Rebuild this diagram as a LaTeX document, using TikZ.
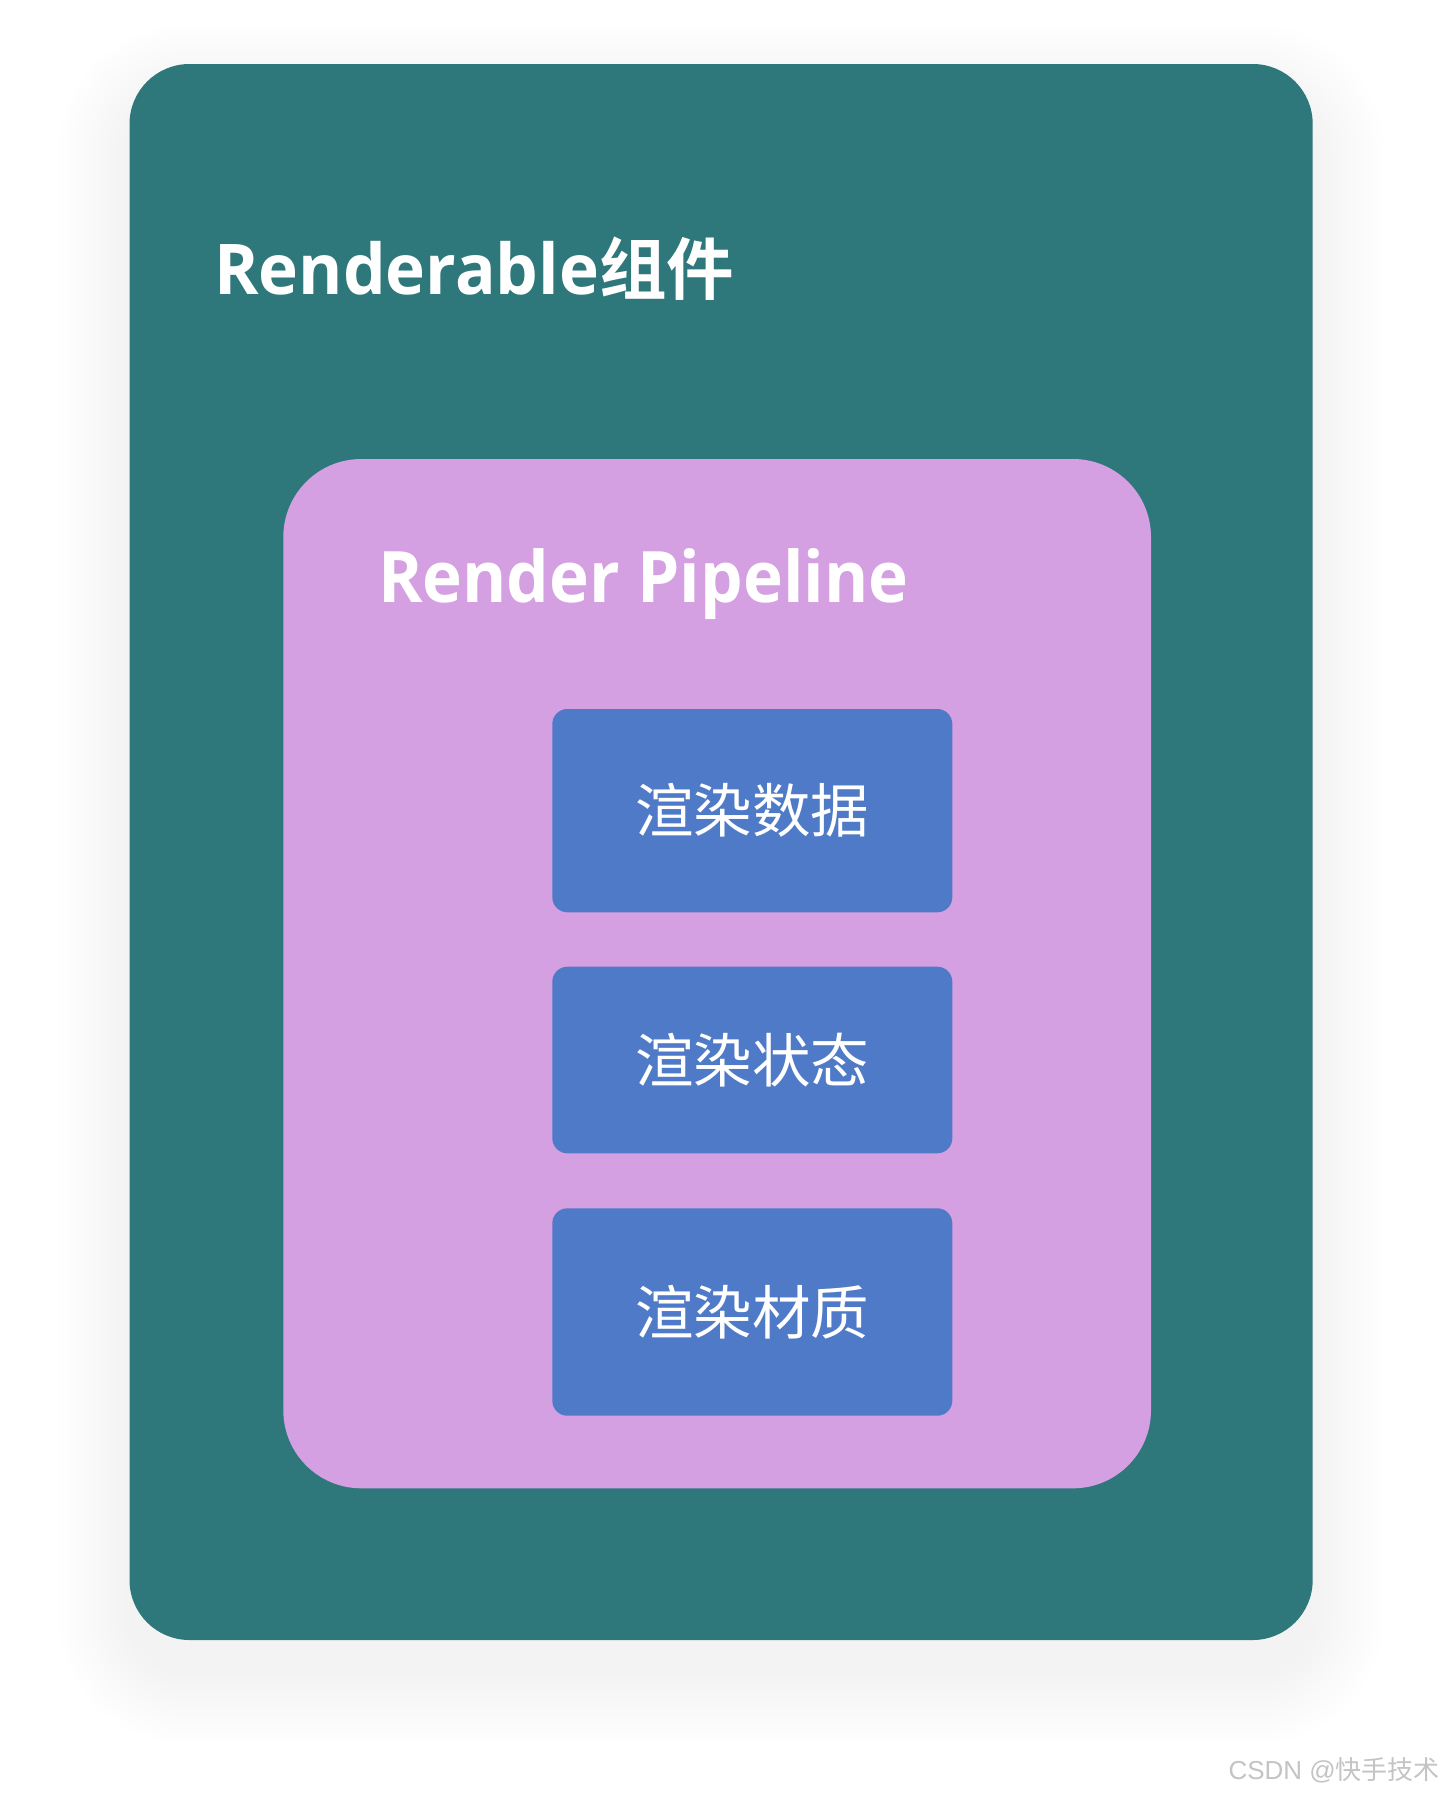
\documentclass[tikz,border=0pt]{standalone}
\usepackage{fontspec}
\newfontfamily\latinbold{Open Sans Bold}
\newfontfamily\cjkbold{Noto Sans CJK SC Bold}
\newfontfamily\cjkreg{Noto Sans CJK SC}
\newfontfamily\wmfont{Liberation Sans}
\definecolor{tealbg}{HTML}{2E787B}
\definecolor{pinkbg}{HTML}{D4A0E1}
\definecolor{bluebox}{HTML}{4F7AC7}
\definecolor{shadowc}{HTML}{2A6070}
\definecolor{wmgray}{HTML}{C4C4C4}
\tikzset{
  outerbox/.style={fill=tealbg, draw=none, rounded corners=60pt},
  shadowlayer/.style={fill=shadowc, draw=none, opacity=0.004},
  innerbox/.style={fill=pinkbg, draw=none, rounded corners=78pt},
  itembox/.style={fill=bluebox, draw=none, rounded corners=15pt},
  itemtext/.style={text=white, font=\cjkreg\fontsize{58.5}{64}\selectfont, inner sep=0pt},
  titletext/.style={text=white, anchor=base west, inner sep=0pt},
}
\begin{document}
\begin{tikzpicture}[x=1pt,y=-1pt]
\useasboundingbox (0,0) rectangle (1443,1797);
\fill[white] (0,0) rectangle (1443,1797);
% soft shadow
\foreach \i in {1,...,12} {
  \pgfmathsetmacro\e{6*\i}
  \pgfmathsetmacro\r{60+6*\i}
  \path[shadowlayer, rounded corners=\r pt]
    (129.5-\e,64-\e+32) rectangle (1312.7+\e,1640+\e+32);
}
% outer component
\path[outerbox] (129.5,64) rectangle (1312.7,1640);
\node[titletext] (t1) at (214,294)
  {\scalebox{0.965}[1]{\latinbold\fontsize{70}{80}\selectfont Renderable}{\cjkbold\fontsize{67.5}{74}\selectfont 组件}};
% render pipeline
\path[innerbox] (283.3,459) rectangle (1151,1488.3);
\node[titletext] (t2) at (378,602.7)
  {\scalebox{0.95}[1]{\latinbold\fontsize{71}{80}\selectfont Render Pipeline}};
% items
\path[itembox] (552.3,709) rectangle (952.3,912.3);
\coordinate (c1) at (752.3,810.6);
\node[itemtext] (n1) at (c1) {渲染数据};
\path[itembox] (552.3,966.7) rectangle (952.3,1153.3);
\coordinate (c2) at (752.3,1060);
\node[itemtext] (n2) at (c2) {渲染状态};
\path[itembox] (552.3,1208.3) rectangle (952.3,1415.7);
\coordinate (c3) at (752.3,1312);
\node[itemtext] (n3) at (c3) {渲染材质};
% watermark
\node[anchor=base east, inner sep=0pt, text=wmgray] (wm) at (1440,1779.5)
  {\wmfont\fontsize{26}{30}\selectfont CSDN @{\cjkreg 快手技术}};
\end{tikzpicture}
\end{document}
